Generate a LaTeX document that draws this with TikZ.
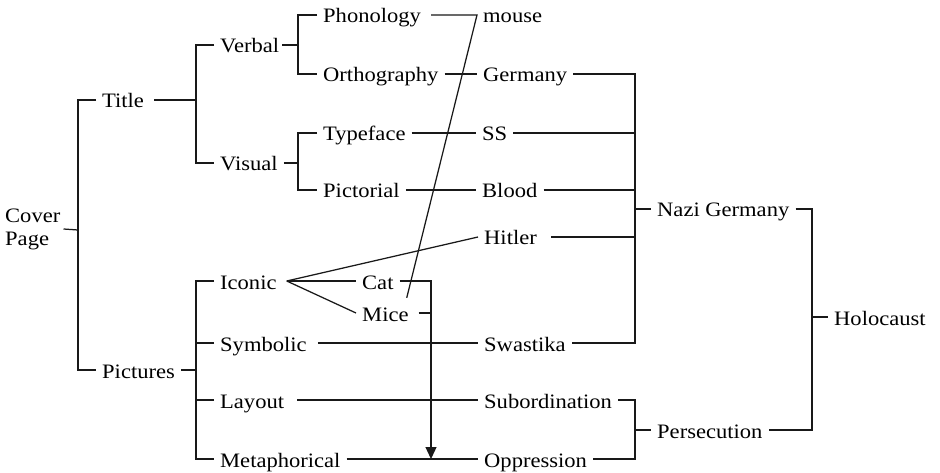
\documentclass[tikz,border=0pt]{standalone}
\usepackage{fontspec}
\setmainfont{Liberation Serif}[FakeStretch=1.1]
\usetikzlibrary{arrows.meta}
\begin{document}
\begin{tikzpicture}[x=1pt,y=-1pt,
  lbl/.style={anchor=west, inner xsep=6pt, inner ysep=0pt, text height=20pt, text depth=4pt, font=\fontsize{20.5}{23}\selectfont},
  ln/.style={line width=1.25pt, draw=black!90},
]
\useasboundingbox (0,0) rectangle (940,473);
% nodes
\node[anchor=west, inner sep=0pt, align=left, font=\fontsize{20.5}{23}\selectfont] (cover) at (5,229) {Cover\\Page};
\node[lbl] (title) at (96,100) {Title};
\node[lbl] (pictures) at (96,370) {Pictures};
\node[lbl] (verbal) at (214,45) {Verbal};
\node[lbl] (visual) at (214,163) {Visual};
\node[lbl] (iconic) at (214,281) {Iconic};
\node[lbl] (symbolic) at (214,343) {Symbolic};
\node[lbl] (layout) at (214,400) {Layout};
\node[lbl] (metaphorical) at (214,459) {Metaphorical};
\node[lbl] (phonology) at (317,15) {Phonology};
\node[lbl] (orthography) at (317,74) {Orthography};
\node[lbl] (typeface) at (317,133) {Typeface};
\node[lbl] (pictorial) at (317,190) {Pictorial};
\node[lbl] (cat) at (356,281) {Cat};
\node[lbl] (mice) at (356,313) {Mice};
\node[lbl] (mouse) at (477,15) {mouse};
\node[lbl] (germany) at (477,74) {Germany};
\node[lbl] (ss) at (476,133) {SS};
\node[lbl] (blood) at (476,190) {Blood};
\node[lbl] (hitler) at (478,237) {Hitler};
\node[lbl] (swastika) at (478,343) {Swastika};
\node[lbl] (subordination) at (478,400) {Subordination};
\node[lbl] (oppression) at (478,459) {Oppression};
\node[lbl] (nazi) at (651,209) {Nazi Germany};
\node[lbl] (persecution) at (651,430) {Persecution};
\node[lbl] (holocaust) at (828,317) {Holocaust};
% spine coordinates
\coordinate (s1) at (78,230);
\coordinate (s2) at (196,100);
\coordinate (s3) at (196,370);
\coordinate (s4) at (298,45);
\coordinate (s5) at (298,163);
\coordinate (s6) at (635,209);
\coordinate (s7) at (812,317);
\coordinate (s8) at (635,430);
\coordinate (tip) at (431,459);
% left tree
\draw[ln] ([xshift=3pt]cover.east) -- (s1);
\draw[ln] (title.west) -| (s1) |- (pictures.west);
\draw[ln] ([xshift=4pt]title.east) -- (s2);
\draw[ln] (verbal.west) -| (s2) |- (visual.west);
\draw[ln] (pictures.east) -- (s3);
\draw[ln] (iconic.west) -| (s3) |- (metaphorical.west);
\draw[ln] (symbolic.west) -- (symbolic.west -| s3);
\draw[ln] (layout.west) -- (layout.west -| s3);
\draw[ln] ([xshift=-3pt]verbal.east) -- (s4);
\draw[ln] (phonology.west) -| (s4) |- (orthography.west);
\draw[ln] (visual.east) -- (s5);
\draw[ln] (typeface.west) -| (s5) |- (pictorial.west);
% middle links
\draw[ln] ([xshift=4pt]phonology.east) -- (mouse.west) -- ([xshift=-8pt,yshift=3pt]mice.north east);
\draw[ln] (orthography.east) -- (germany.west);
\draw[ln] (typeface.east) -- (ss.west);
\draw[ln] (pictorial.east) -- (blood.west);
\draw[ln] ([xshift=4pt]iconic.east) -- (hitler.west);
\draw[ln] ([xshift=4pt]iconic.east) -- (cat.west);
\draw[ln] ([xshift=4pt]iconic.east) -- (mice.west);
\draw[ln] ([xshift=5pt]symbolic.east) -- (swastika.west);
\draw[ln] ([xshift=7pt]layout.east) -- (subordination.west);
\draw[ln] (metaphorical.east) -- (oppression.west);
\draw[ln, -{Triangle[length=12pt,width=11pt]}] (cat.east) -| (tip);
\draw[ln] ([xshift=4pt]mice.east) -- (mice.east -| tip);
% right tree
\draw[ln] (germany.east) -| (s6) |- (swastika.east);
\draw[ln] (ss.east) -- (ss.east -| s6);
\draw[ln] (blood.east) -- (blood.east -| s6);
\draw[ln] ([xshift=8pt]hitler.east) -- (hitler.east -| s6);
\draw[ln] (s6) -- (nazi.west);
\draw[ln] (nazi.east) -| (s7) |- (persecution.east);
\draw[ln] (s7) -- (holocaust.west);
\draw[ln] (subordination.east) -| (s8) |- (oppression.east);
\draw[ln] (s8) -- (persecution.west);
\end{tikzpicture}
\end{document}
